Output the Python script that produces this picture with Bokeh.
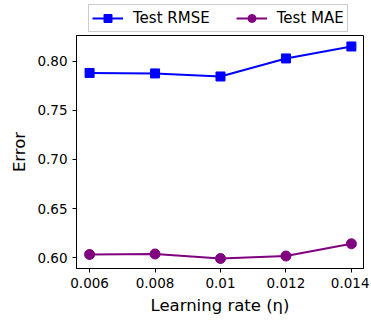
from bokeh.plotting import figure
from bokeh.layouts import column
from bokeh.models import FixedTicker, Legend, LegendItem, Range1d
from bokeh.embed import file_html
from bokeh.resources import INLINE

lr = [0.006, 0.008, 0.010, 0.012, 0.014]
rmse = [0.7883, 0.7878, 0.7847, 0.8031, 0.8153]
mae = [0.6031, 0.6036, 0.5990, 0.6015, 0.6140]
x_ticks = [0.006, 0.008, 0.010, 0.012, 0.014]
x_labels = ["0.006", "0.008", "0.01", "0.012", "0.014"]
y_ticks = [0.60, 0.65, 0.70, 0.75, 0.80]
y_labels = ["0.60", "0.65", "0.70", "0.75", "0.80"]
series_names = ["Test RMSE", "Test MAE"]

FONT = "DejaVu Sans"

# main plot
p = figure(frame_width=287, frame_height=233, output_backend="svg", toolbar_location=None,
           x_range=Range1d(0.0056, 0.01437), y_range=Range1d(0.5888, 0.8265),
           min_border_left=76, min_border_right=6, min_border_top=0, min_border_bottom=52)
p.xgrid.visible = False
p.ygrid.visible = False
p.outline_line_color = "black"
p.outline_line_width = 1
p.background_fill_color = "white"

p.line(lr, rmse, line_color="blue", line_width=2)
p.scatter(lr, rmse, marker="square", size=9, fill_color="blue", line_color="blue")
p.line(lr, mae, line_color="purple", line_width=2)
p.scatter(lr, mae, marker="circle", size=10, fill_color="purple", line_color="purple")

p.xaxis.ticker = FixedTicker(ticks=x_ticks)
p.xaxis.major_label_overrides = dict(zip(x_ticks, x_labels))
p.yaxis.ticker = FixedTicker(ticks=y_ticks)
p.yaxis.major_label_overrides = dict(zip(y_ticks, y_labels))
for ax in (p.xaxis[0], p.yaxis[0]):
    ax.major_tick_out = 4
    ax.major_tick_in = 0
    ax.minor_tick_out = 0
    ax.minor_tick_in = 0
    ax.major_label_text_font = FONT
    ax.major_label_text_font_size = "13.5px"
    ax.major_label_text_color = "black"
    ax.axis_label_text_font = FONT
    ax.axis_label_text_font_size = "16.5px"
    ax.axis_label_text_font_style = "normal"
    ax.axis_label_text_color = "black"
    ax.axis_line_color = "black"
    ax.major_tick_line_color = "black"
p.xaxis.axis_label = "Learning rate (\u03b7)"
p.yaxis.axis_label = "Error"

# legend strip above the plot (its ranges keep the series out of view)
lg = figure(width=369, height=35, output_backend="svg", toolbar_location=None,
            x_axis_type=None, y_axis_type=None,
            x_range=Range1d(1, 2), y_range=Range1d(1, 2),
            min_border_left=0, min_border_right=0, min_border_top=0, min_border_bottom=0)
lg.grid.visible = False
lg.outline_line_color = None
la = lg.line(lr, rmse, line_color="blue", line_width=2)
sa = lg.scatter(lr, rmse, marker="square", size=9, fill_color="blue", line_color="blue")
lb = lg.line(lr, mae, line_color="purple", line_width=2)
sb = lg.scatter(lr, mae, marker="circle", size=10, fill_color="purple", line_color="purple")

legend = Legend(items=[LegendItem(label=series_names[0], renderers=[la, sa]),
                       LegendItem(label=series_names[1], renderers=[lb, sb])],
                orientation="horizontal", location=(12, 3),
                label_text_font=FONT, label_text_font_size="15px", label_text_color="black",
                glyph_width=31, glyph_height=20, spacing=26, padding=3,
                border_line_color="#cccccc", border_line_alpha=1.0, border_line_width=1,
                background_fill_alpha=1.0, label_standoff=10, margin=0)
lg.add_layout(legend, "center")

layout = column(lg, p, spacing=0)
open("out.html", "w").write(file_html(layout, INLINE))
